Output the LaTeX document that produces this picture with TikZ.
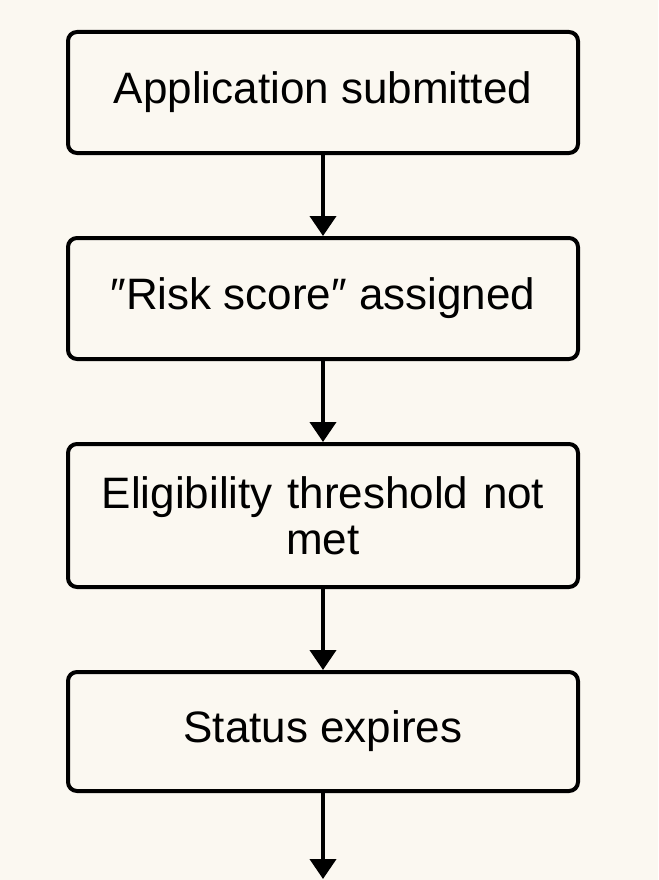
\documentclass[tikz,border=0pt]{standalone}
\usepackage{fontspec}
\setmainfont{Liberation Sans}
\usetikzlibrary{arrows.meta, positioning}
\definecolor{paper}{HTML}{FBF8F1}

\begin{document}
\begin{tikzpicture}[x=1pt, y=1pt, node distance=81pt,
  every node/.style={draw, line width=4pt, rounded corners=9pt, fill=paper, minimum width=510pt, minimum height=121pt, align=center, font=\fontsize{44}{46}\selectfont},
  flow/.style={line width=4pt, -{Triangle[length=20pt, width=26pt]}}]
\fill[paper] (0,0) rectangle (658,-880);
\useasboundingbox (0,0) rectangle (658,-880);
\node (submit) at (323,-92.5) {Application submitted};
\node (score) [below=of submit] {″Risk score″ assigned};
\node (threshold) [below=of score, minimum height=143pt, text width=490pt] {Eligibility threshold not\\met};
\node (expire) [below=of threshold, minimum height=119pt] {Status expires};
\coordinate (end) at (expire.south |- 0,-879);
\draw[flow] (submit) -- (score);
\draw[flow] (score) -- (threshold);
\draw[flow] (threshold) -- (expire);
\draw[flow] (expire) -- (end);
\end{tikzpicture}
\end{document}
